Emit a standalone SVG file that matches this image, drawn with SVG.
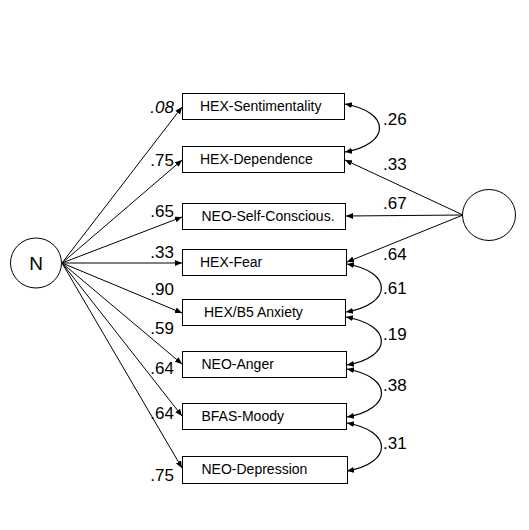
<svg xmlns="http://www.w3.org/2000/svg" width="529" height="530" viewBox="0 0 529 530">
<style>
.box{fill:#fff;stroke:#000;stroke-width:1}
.lat{fill:#fff;stroke:#000;stroke-width:1}
.t{font-family:"Liberation Sans",Arial,sans-serif;font-size:14px;fill:#000}
.n{font-family:"Liberation Sans",Arial,sans-serif;font-size:17px;fill:#000}
.e{text-anchor:end}
.ln{fill:none;stroke:#000;stroke-width:1;marker-end:url(#ah)}
.cv{fill:none;stroke:#000;stroke-width:1.2;marker-start:url(#ahs);marker-end:url(#ah)}
</style>
<defs>
<marker id="ah" markerUnits="userSpaceOnUse" markerWidth="8" markerHeight="8" refX="7" refY="3" orient="auto"><path d="M0,0 L7,3 L0,6 z" fill="#000"/></marker>
<marker id="ahs" markerUnits="userSpaceOnUse" markerWidth="8" markerHeight="8" refX="7" refY="3" orient="auto-start-reverse"><path d="M0,0 L7,3 L0,6 z" fill="#000"/></marker>
</defs>
<rect width="529" height="530" fill="#fff"/>
<g id="connectors">
<path class="ln" d="M62,263 L182,107"/>
<path class="ln" d="M62,263 L182,160"/>
<path class="ln" d="M62,263 L182,217"/>
<path class="ln" d="M62,263 L182,263"/>
<path class="ln" d="M62,263 L182,313"/>
<path class="ln" d="M62,263 L182,364"/>
<path class="ln" d="M62,263 L182,416"/>
<path class="ln" d="M62,263 L182,468"/>
<path class="ln" d="M463,215 L345,160"/>
<path class="ln" d="M463,215 L346,216"/>
<path class="ln" d="M463,215 L347,262"/>
<path class="cv" d="M345,104 C391,112 391,144 345,152"/>
<path class="cv" d="M347,264 C393,272 393,304 346,312"/>
<path class="cv" d="M346,317 C393,325 393,357 347,365"/>
<path class="cv" d="M347,369 C393,377 393,409 347,417"/>
<path class="cv" d="M347,423 C393,431 393,463 347,471"/>
<text class="n e" x="174" y="113" font-style="italic">.08</text>
<text class="n e" x="174" y="166">.75</text>
<text class="n e" x="174" y="217">.65</text>
<text class="n e" x="174" y="258">.33</text>
<text class="n e" x="174" y="295">.90</text>
<text class="n e" x="174" y="334">.59</text>
<text class="n e" x="174" y="374">.64</text>
<text class="n e" x="174" y="419">.64</text>
<text class="n e" x="174" y="481">.75</text>
<text class="n" x="383" y="125">.26</text>
<text class="n" x="383" y="170">.33</text>
<text class="n" x="383" y="209">.67</text>
<text class="n" x="383" y="260">.64</text>
<text class="n" x="383" y="294">.61</text>
<text class="n" x="383" y="340">.19</text>
<text class="n" x="383" y="391">.38</text>
<text class="n" x="383" y="449">.31</text>
</g>
<g id="N"><ellipse class="lat" cx="36" cy="263" rx="25.5" ry="25"/><text x="36" y="270" font-family="Liberation Sans, Arial, sans-serif" font-size="19" text-anchor="middle">N</text></g>
<g id="F2"><ellipse class="lat" cx="489" cy="215" rx="26.5" ry="25.5"/></g>
<g id="v1"><rect class="box" x="182.5" y="93.5" width="162" height="26"/><text class="t" x="200" y="111">HEX-Sentimentality</text></g>
<g id="v2"><rect class="box" x="182.5" y="146.5" width="162" height="26"/><text class="t" x="200" y="164">HEX-Dependence</text></g>
<g id="v3"><rect class="box" x="182.5" y="203.5" width="163" height="26"/><text class="t" x="201.5" y="221">NEO-Self-Conscious.</text></g>
<g id="v4"><rect class="box" x="182.5" y="249.5" width="164" height="26"/><text class="t" x="200" y="267">HEX-Fear</text></g>
<g id="v5"><rect class="box" x="182.5" y="299.5" width="163" height="26"/><text class="t" x="204" y="317">HEX/B5 Anxiety</text></g>
<g id="v6"><rect class="box" x="182.5" y="351.5" width="164" height="26"/><text class="t" x="201.5" y="369">NEO-Anger</text></g>
<g id="v7"><rect class="box" x="182.5" y="403.5" width="164" height="26"/><text class="t" x="201.5" y="421">BFAS-Moody</text></g>
<g id="v8"><rect class="box" x="182.5" y="456.5" width="165" height="27"/><text class="t" x="201.5" y="474">NEO-Depression</text></g>
</svg>
